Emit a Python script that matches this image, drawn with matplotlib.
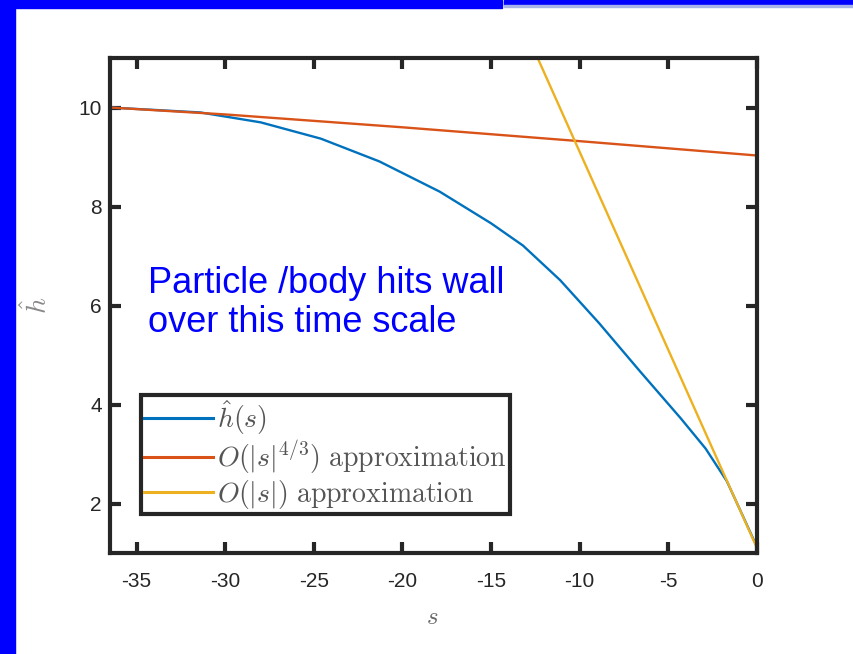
import numpy as np
import matplotlib
matplotlib.use("Agg")
import matplotlib.pyplot as plt
from matplotlib.patches import Rectangle

# exact solution h(s) and the two asymptotic approximations
s_exact = [-36.5, -31.4, -28.0, -24.6, -21.3, -17.9, -15.0, -13.2, -11.1, -8.9, -6.6, -4.3, -2.9, -1.7, -0.8, 0.0]
h_exact = [10.0, 9.9, 9.7, 9.37, 8.91, 8.3, 7.66, 7.21, 6.51, 5.64, 4.67, 3.72, 3.11, 2.45, 1.75, 1.12]

s_far = [-36.5, -30.0, -20.0, -10.0, 0.0]
h_far = [10.0, 9.86, 9.6, 9.32, 9.03]

s_near = [-12.6, 0.0]
h_near = [11.18, 1.1]

xticks = [-35, -30, -25, -20, -15, -10, -5, 0]
yticks = [2, 4, 6, 8, 10]

labels = [r"$\hat{h}(s)$",
          r"$O(|s|^{4/3})\ \mathrm{approximation}$",
          r"$O(|s|)\ \mathrm{approximation}$"]
colors = ["#0072BD", "#D95319", "#EDB120"]

plt.rcParams["mathtext.fontset"] = "cm"
plt.rcParams["axes.unicode_minus"] = False

W, H = 854, 654
fig = plt.figure(figsize=(W / 100, H / 100), dpi=100)
fig.patch.set_facecolor("white")

# slide frame
blue = "#0000FF"
fig.patches.append(Rectangle((0, 0), 15 / W, 1, transform=fig.transFigure, color=blue, zorder=0))
fig.patches.append(Rectangle((0, 1 - 8 / H), 502 / W, 8 / H, transform=fig.transFigure, color=blue, zorder=0))
fig.patches.append(Rectangle((504 / W, 1 - 5 / H), 350 / W, 5 / H, transform=fig.transFigure, color=blue, zorder=0))
fig.patches.append(Rectangle((504 / W, 1 - 6.5 / H), 350 / W, 1.5 / H, transform=fig.transFigure, color="#a8b4e8", zorder=0))

ax = fig.add_axes([110 / W, 1 - 553 / H, 647 / W, 495 / H])
ax.plot(s_exact, h_exact, color=colors[0], lw=1.7, label=labels[0])
ax.plot(s_far, h_far, color=colors[1], lw=1.7, label=labels[1])
ax.plot(s_near, h_near, color=colors[2], lw=1.7, label=labels[2])

ax.set_xlim(-36.5, 0)
ax.set_ylim(1, 11)
ax.set_xticks(xticks)
ax.set_yticks(yticks)

dark = "#262626"
for sp in ax.spines.values():
    sp.set_linewidth(3)
    sp.set_color(dark)
ax.tick_params(direction="in", length=8, width=3, color=dark, labelcolor=dark,
               labelsize=15, top=True, right=True)
ax.tick_params(axis="x", pad=14)
ax.tick_params(axis="y", pad=6)
for t in ax.get_xticklabels() + ax.get_yticklabels():
    t.set_fontfamily("Liberation Sans")

fig.text(37 / W, 1 - 305 / H, r"$\hat{h}$", rotation=90, fontsize=20, color="#8a8a8a",
         ha="center", va="center")
fig.text(432 / W, 1 - 617 / H, r"$s$", fontsize=18, color="#666666", ha="center", va="center")

leg = ax.legend(loc="lower left", bbox_to_anchor=(0.048, 0.079), fontsize=20,
                handlelength=2.5, handletextpad=0.15, borderpad=0.1, labelspacing=0.05,
                fancybox=False, framealpha=1, borderaxespad=0)
leg.get_frame().set_edgecolor(dark)
leg.get_frame().set_linewidth(3)
for t in leg.get_texts():
    t.set_color("#555555")
for ln in leg.get_lines():
    ln.set_linewidth(2.2)

fig.text(148 / W, 1 - 332 / H, "Particle /body hits wall\nover this time scale",
         fontsize=26, color=blue, family="Liberation Sans", ha="left", va="baseline",
         linespacing=1.15)

fig.savefig("out.png", dpi=100)
